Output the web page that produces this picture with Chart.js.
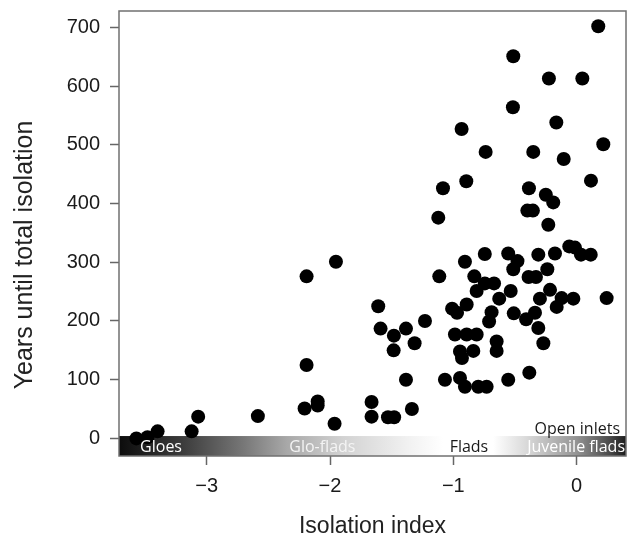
<!DOCTYPE html>
<html>
<head>
<meta charset="utf-8">
<title>Isolation index</title>
<script src="https://cdn.jsdelivr.net/npm/chart.js@4.4.0/dist/chart.umd.min.js"></script>
<style>
  html, body { margin: 0; padding: 0; background: #fff; }
</style>
</head>
<body>
<canvas id="isolationChart" width="627" height="540"></canvas>
<script>
// isolation index of each basin (x) and years until it is fully cut off (y)
const isolationIndex = [
  0.175, -0.514, -0.225, 0.046, -0.517, -0.165, -0.933, 0.216, -0.738, -0.352,
  -0.105, -0.895, 0.116, -1.084, -0.387, -0.25, -0.19, -0.40, -0.355, -1.122,
  -0.23, -0.745, -0.555, -0.48, -0.906, -0.514, -1.114, -0.83, -0.39, -0.33,
  -0.745, -0.67, -0.811, -0.535, -0.628, -0.892, -1.01, -0.97, -0.69, -0.71,
  -0.51, -0.41, -0.338, -0.311, -0.176, -0.06, -0.014, 0.035, 0.114, -0.238,
  -0.216, -0.298, -0.122, -0.027, -0.162, 0.243, -0.311, -0.27, -0.384, -0.555,
  -0.987, -0.892, -0.811, -0.946, -0.838, -0.93, -0.649, -0.649, -1.068, -0.946,
  -0.906, -0.798, -0.73, -1.23, -1.952, -2.19, -1.609, -1.59, -1.482, -1.384,
  -1.314, -1.484, -2.19, -1.384, -2.585, -2.206, -2.1, -2.1, -1.963, -1.663,
  -1.663, -1.53, -1.48, -1.336, -3.069, -3.122, -3.398, -3.57, -3.48
];
const yearsUntilIsolation = [
  702, 651, 613, 613, 564, 538, 527, 501, 488, 488,
  476, 438, 439, 426, 426, 415, 402, 388, 388, 376,
  364, 314, 315, 302, 301, 288, 276, 276, 275, 275,
  264, 264, 251, 251, 238, 228, 221, 214, 215, 199,
  213, 203, 214, 313, 315, 327, 325, 313, 313, 288,
  253, 238, 239, 238, 224, 239, 188, 162, 112, 100,
  177, 177, 177, 148, 149, 137, 165, 149, 100, 103,
  88, 88, 88, 200, 301, 276, 225, 187, 175, 187,
  162, 150, 125, 100, 38, 51, 63, 56, 25, 62,
  37, 36, 36, 50, 37, 12, 12, 0, 2
];

const xTicks = [-3, -2, -1, 0];
const yTicks = [0, 100, 200, 300, 400, 500, 600, 700];

// basin types along the isolation gradient
const stageNames = ["Gloes", "Glo-flads", "Flads", "Juvenile flads", "Open inlets"];

const yTitle = "Years until total isolation";

const points = isolationIndex.map((x, i) => ({ x: x, y: yearsUntilIsolation[i] }));

// proper minus sign for negative tick labels
const fmt = (v) => (v < 0 ? "\u2212" + Math.abs(v) : String(v));

// grey-scale band along the bottom of the plot with the basin type names
const stageBar = {
  id: "stageBar",
  beforeDatasetsDraw(chart) {
    const { ctx, chartArea: { left, right, bottom }, scales: { y } } = chart;
    const top = y.getPixelForValue(4);
    const grad = ctx.createLinearGradient(left, 0, right, 0);
    grad.addColorStop(0, "#0c0c0c");
    grad.addColorStop(0.126, "#3c3c3c");
    grad.addColorStop(0.245, "#777");
    grad.addColorStop(0.331, "#a8a8a8");
    grad.addColorStop(0.442, "#d2d2d2");
    grad.addColorStop(0.574, "#f2f2f2");
    grad.addColorStop(0.639, "#fff");
    grad.addColorStop(0.738, "#fff");
    grad.addColorStop(0.805, "#d8d8d8");
    grad.addColorStop(0.903, "#939393");
    grad.addColorStop(0.968, "#4a4a4a");
    grad.addColorStop(1, "#1c1c1c");
    ctx.save();
    ctx.fillStyle = grad;
    ctx.fillRect(left, top, right - left, bottom - top);
    ctx.restore();
  },
  afterDatasetsDraw(chart) {
    const { ctx, chartArea: { right, bottom }, scales: { x } } = chart;
    const base = bottom - 4.5;
    ctx.save();
    ctx.font = "16px 'Open Sans'";
    ctx.textBaseline = "alphabetic";
    ctx.textAlign = "left";
    ctx.fillStyle = "#fff";
    ctx.fillText(stageNames[0], x.getPixelForValue(-3.54), base);
    ctx.fillStyle = "#f4f4f4";
    ctx.fillText(stageNames[1], x.getPixelForValue(-2.33), base);
    ctx.fillStyle = "#1a1a1a";
    ctx.fillText(stageNames[2], x.getPixelForValue(-1.03), base);
    ctx.textAlign = "right";
    ctx.fillStyle = "#fff";
    ctx.fillText(stageNames[3], right - 1, base);
    ctx.fillStyle = "#1a1a1a";
    ctx.fillText(stageNames[4], right - 6, bottom - 22);
    ctx.restore();
  },
  afterDraw(chart) {
    const { ctx, chartArea: { left, top, right, bottom } } = chart;
    ctx.save();
    ctx.strokeStyle = "#707070";
    ctx.lineWidth = 1.5;
    ctx.strokeRect(left, top, right - left, bottom - top);

    // vertical axis title, sits a little below the middle of the frame
    ctx.translate(25, 255);
    ctx.rotate(-Math.PI / 2);
    ctx.font = "25px 'Liberation Sans', Arial";
    ctx.fillStyle = "#222";
    ctx.textAlign = "center";
    ctx.textBaseline = "middle";
    ctx.fillText(yTitle, 0, 0);
    ctx.restore();
  }
};

const tickStyle = { color: "#1a1a1a", font: { family: "'Liberation Sans', Arial", size: 20 } };

new Chart(document.getElementById("isolationChart"), {
  type: "scatter",
  data: {
    datasets: [{
      data: points,
      backgroundColor: "#000",
      borderWidth: 0,
      pointRadius: 7,
      pointHoverRadius: 7
    }]
  },
  options: {
    responsive: false,
    animation: false,
    events: [],
    layout: { autoPadding: false, padding: { top: 11, right: 1, left: 0, bottom: 0 } },
    plugins: { legend: { display: false }, tooltip: { enabled: false } },
    scales: {
      x: {
        type: "linear",
        min: -3.711,
        max: 0.4,
        afterBuildTicks: (scale) => { scale.ticks = xTicks.map((v) => ({ value: v })); },
        afterFit: (scale) => {
          scale.height = 84;
          scale.paddingLeft = 0;
          scale.paddingRight = 0;
        },
        border: { display: false },
        grid: { drawOnChartArea: false, drawTicks: true, tickLength: 9, tickColor: "#666", tickWidth: 1.5 },
        ticks: { ...tickStyle, padding: 9, maxRotation: 0, callback: fmt },
        title: {
          display: true,
          text: "Isolation index",
          color: "#222",
          font: { family: "'Liberation Sans', Arial", size: 23 },
          padding: { top: 0, bottom: 0 }
        }
      },
      y: {
        type: "linear",
        min: -30,
        max: 728,
        afterBuildTicks: (scale) => { scale.ticks = yTicks.map((v) => ({ value: v })); },
        afterFit: (scale) => {
          scale.width = 119;
          scale.paddingTop = 0;
          scale.paddingBottom = 0;
        },
        border: { display: false },
        grid: { drawOnChartArea: false, drawTicks: true, tickLength: 9, tickColor: "#666", tickWidth: 1.5 },
        ticks: { ...tickStyle, padding: 10, callback: fmt }
      }
    }
  },
  plugins: [stageBar]
});
</script>
</body>
</html>
